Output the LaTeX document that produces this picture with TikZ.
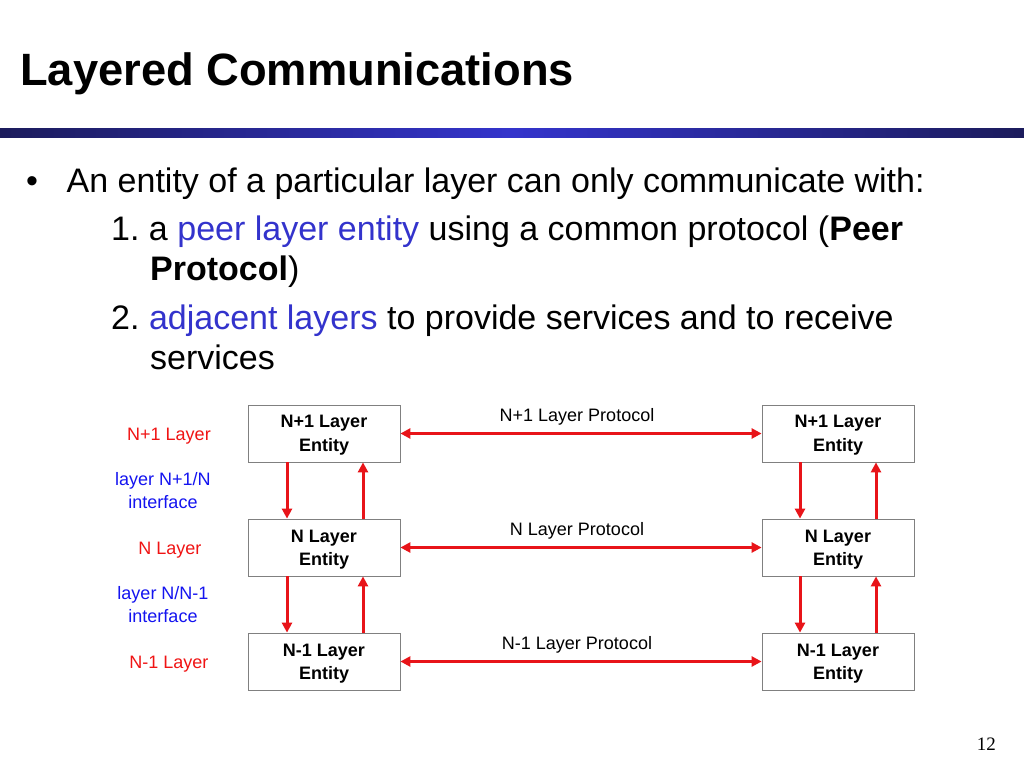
\documentclass[tikz,border=0pt]{standalone}
\usepackage{fontspec}
\setmainfont{Liberation Sans}
\newfontfamily\pagenumfont{Liberation Serif}
\usetikzlibrary{arrows.meta}
\definecolor{navyd}{HTML}{1C1C5C}
\definecolor{navyl}{HTML}{3434CC}
\definecolor{pblue}{HTML}{3333CC}
\definecolor{lblue}{HTML}{1414F0}
\definecolor{lred}{HTML}{F01414}
\definecolor{ared}{HTML}{E81419}
\definecolor{boxgray}{HTML}{808080}
\frenchspacing
\begin{document}
\begin{tikzpicture}[x=1pt,y=-1pt,
  >={Triangle[length=10pt,width=10pt]},
  titletext/.style={inner sep=0pt, anchor=base west, font=\fontsize{45.3}{54}\selectfont\bfseries},
  bodytext/.style={inner sep=0pt, anchor=base west, font=\fontsize{34}{40}\selectfont},
  ent/.style={draw=boxgray, line width=0.8pt, minimum width=152pt, minimum height=57pt,
    inner sep=0pt, align=center, text depth=0pt, font=\fontsize{18}{23.4}\selectfont\bfseries},
  plabel/.style={inner sep=0pt, anchor=base, font=\fontsize{18}{23.4}\selectfont},
  laylabel/.style={inner sep=0pt, anchor=base, text=lred, font=\fontsize{18}{23.4}\selectfont},
  iflabel/.style={inner sep=0pt, align=center, text=lblue, font=\fontsize{18}{23.4}\selectfont},
  arr/.style={draw=ared, line width=3pt, ->},
  darr/.style={draw=ared, line width=3pt, <->}
]
\useasboundingbox[fill=white] (0,0) rectangle (1024,768);

% title and bar
\node[titletext] (title) at (20,85) {Layered Communications};
\shade[left color=navyd, right color=navyd, middle color=navyl] (0,128) rectangle (1024,137);

% bullet text
\node[bodytext, anchor=base] (bul) at (32,192) {•};
\node[bodytext] (l1) at (66.5,192) {An entity of a particular layer can only communicate with:};
\node[bodytext] (l2) at (111,240) {1. a \textcolor{pblue}{peer layer entity} using a common protocol (\textbf{Peer}};
\node[bodytext] (l3) at (150,280) {\textbf{Protocol})};
\node[bodytext] (l4) at (111,329) {2. \textcolor{pblue}{adjacent layers} to provide services and to receive};
\node[bodytext] (l5) at (150,369) {services};

% entity boxes
\node[ent] (a1) at (324,433.5) {N+1 Layer\\Entity};
\node[ent] (a2) at (324,547.5) {N Layer\\Entity};
\node[ent] (a3) at (324,661.5) {N-1 Layer\\Entity};
\node[ent] (b1) at (838,433.5) {N+1 Layer\\Entity};
\node[ent] (b2) at (838,547.5) {N Layer\\Entity};
\node[ent] (b3) at (838,661.5) {N-1 Layer\\Entity};

% protocol labels
\node[plabel] (p1) at (577,421) {N+1 Layer Protocol};
\node[plabel] (p2) at (577,535) {N Layer Protocol};
\node[plabel] (p3) at (577,649) {N-1 Layer Protocol};

% left labels
\node[laylabel] (ln1) at (169,440) {N+1 Layer};
\node[iflabel] (if1) at (163,490.5) {layer N+1/N\\interface};
\node[laylabel] (ln2) at (170,554) {N Layer};
\node[iflabel] (if2) at (163,604.5) {layer N/N-1\\interface};
\node[laylabel] (ln3) at (169,668) {N-1 Layer};

% peer protocol arrows
\draw[darr] (a1) -- (b1);
\draw[darr] (a2) -- (b2);
\draw[darr] (a3) -- (b3);

% service arrows, left stack
\draw[arr] ([xshift=-37pt]a1.south) -- ([xshift=-37pt]a2.north);
\draw[arr] ([xshift=39pt]a2.north) -- ([xshift=39pt]a1.south);
\draw[arr] ([xshift=-37pt]a2.south) -- ([xshift=-37pt]a3.north);
\draw[arr] ([xshift=39pt]a3.north) -- ([xshift=39pt]a2.south);

% service arrows, right stack
\draw[arr] ([xshift=-38pt]b1.south) -- ([xshift=-38pt]b2.north);
\draw[arr] ([xshift=38pt]b2.north) -- ([xshift=38pt]b1.south);
\draw[arr] ([xshift=-38pt]b2.south) -- ([xshift=-38pt]b3.north);
\draw[arr] ([xshift=38pt]b3.north) -- ([xshift=38pt]b2.south);

% page number
\node[inner sep=0pt, anchor=base east, font=\pagenumfont\fontsize{19}{22}\selectfont] (pg) at (996,750) {12};
\end{tikzpicture}
\end{document}
